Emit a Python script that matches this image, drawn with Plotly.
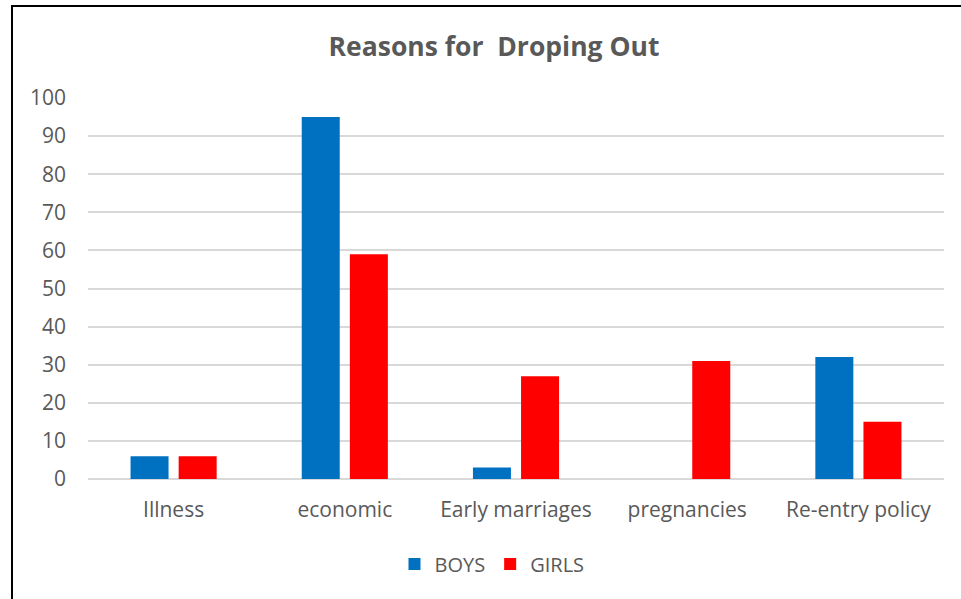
import plotly.graph_objects as go

categories = ["Illness", "economic", "Early marriages", "pregnancies", "Re-entry policy"]
boys = [6, 95, 3, 0, 32]
girls = [6, 59, 27, 31, 15]
y_ticks = list(range(0, 101, 10))

L, R, T, B = 88, 17, 98, 120
W, H = 961, 599
pw, ph = W - L - R, H - T - B

fig = go.Figure()
fig.add_trace(go.Bar(name="BOYS", x=categories, y=boys, marker=dict(color="#0070C0", line=dict(width=0))))
fig.add_trace(go.Bar(name="GIRLS", x=categories, y=girls, marker=dict(color="#FF0000", line=dict(width=0))))

font_family = "'Open Sans', sans-serif"
fig.update_layout(
    width=W, height=H,
    margin=dict(l=L, r=R, t=T, b=B),
    paper_bgcolor="white", plot_bgcolor="white",
    barmode="group", bargap=0.438, bargroupgap=0.21,
    title=dict(text="<b>Reasons for  Droping Out</b>", x=(494) / W, xanchor="center",
               y=1 - 47 / H, yanchor="middle",
               font=dict(family=font_family, size=26.5, color="#595959")),
    font=dict(family=font_family, size=21, color="#595959"),
    showlegend=True,
    legend=dict(orientation="h", x=(492 - L) / pw, xanchor="center", y=(479 - 564) / ph, yanchor="middle",
                font=dict(size=20, color="#595959"), itemwidth=30, traceorder="normal"),
    xaxis=dict(showgrid=False, showline=False, ticks="", ticklabelstandoff=16,
               tickfont=dict(size=21, color="#595959")),
    yaxis=dict(range=[0, 100], tickvals=y_ticks, showgrid=True, gridcolor="#D9D9D9", gridwidth=1.5,
               zeroline=True, zerolinecolor="#D9D9D9", zerolinewidth=1.5, ticks="", ticklabelstandoff=21,
               tickfont=dict(size=21, color="#595959")),
)

fig.add_shape(type="rect", xref="paper", yref="paper",
              x0=(12 - L) / pw, x1=(W + 20 - L) / pw,
              y0=(479 - (H + 20)) / ph, y1=1 + (T - 6) / ph,
              line=dict(color="black", width=2), fillcolor="rgba(0,0,0,0)", layer="above")

fig.write_html("out.html")
